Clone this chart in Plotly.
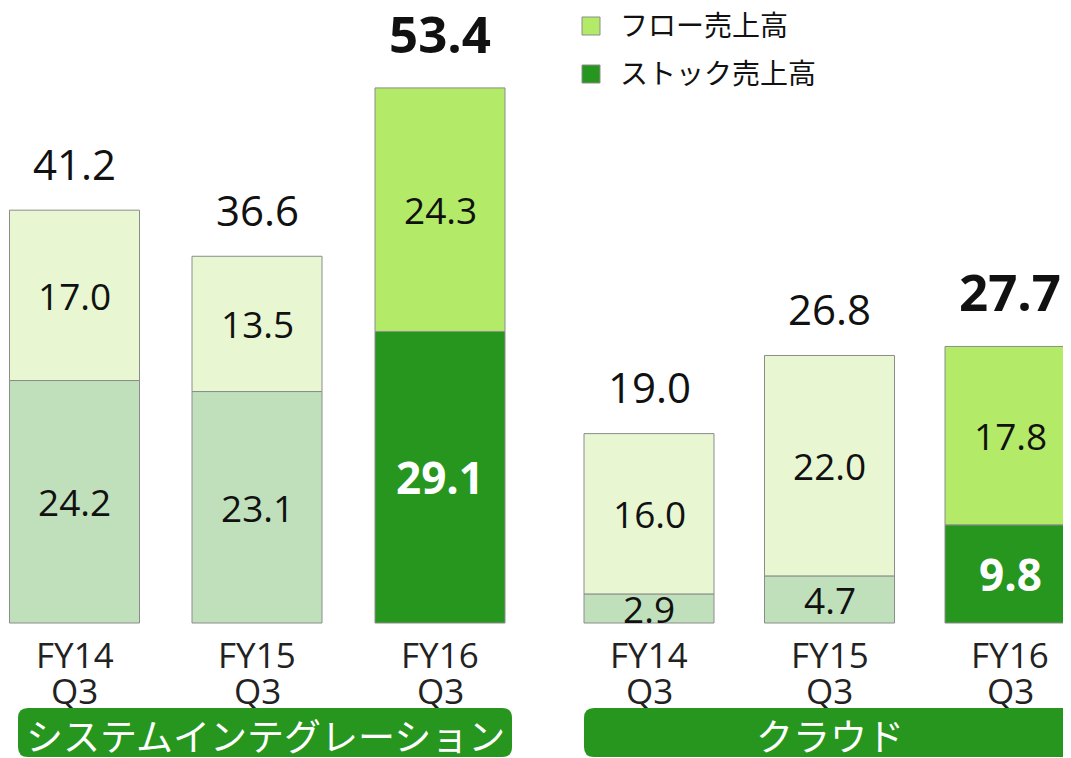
import plotly.graph_objects as go

# ---- data ----
period_fy = ["FY14", "FY15", "FY16"]
period_q = ["Q3", "Q3", "Q3"]
segments = ["システムインテグレーション", "クラウド"]
si_stock = [24.2, 23.1, 29.1]
si_flow = [17.0, 13.5, 24.3]
si_total = [41.2, 36.6, 53.4]
cl_stock = [2.9, 4.7, 9.8]
cl_flow = [16.0, 22.0, 17.8]
cl_total = [19.0, 26.8, 27.7]
legend_names = ["フロー売上高", "ストック売上高"]

# ---- layout helpers (page-pixel based; page body has 8px margin) ----
PAGE_W, PAGE_H = 1071, 758
OFF = 8
W, H = PAGE_W - OFF, PAGE_H - OFF
BASE_PX = 623
PX_PER_UNIT = 10.02


def py(pix):
    """page pixel row -> data y"""
    return (BASE_PX - pix) / PX_PER_UNIT


centers = [[74.5, 257, 440], [649, 829.5, 1010]]
bar_w = 130

flow_pale, flow_dark = "#E8F7D2", "#B3EB68"
stock_pale, stock_dark = "#C0E0BC", "#26961E"
border = "#8C8C8C"
group_green = "#26961E"

FONT = "Open Sans, Noto Sans CJK JP, sans-serif"
JFONT = "Noto Sans CJK JP, sans-serif"

fig = go.Figure()
annotations = []
shapes = []

groups = [(si_stock, si_flow, si_total), (cl_stock, cl_flow, cl_total)]
for gi, (stock, flow, total) in enumerate(groups):
    xs = centers[gi]
    stock_cols = [stock_pale, stock_pale, stock_dark]
    flow_cols = [flow_pale, flow_pale, flow_dark]
    fig.add_trace(go.Bar(
        x=xs, y=stock, width=bar_w, name=legend_names[1],
        marker=dict(color=stock_cols, line=dict(color=border, width=1)),
        showlegend=False, hoverinfo="skip"))
    fig.add_trace(go.Bar(
        x=xs, y=flow, base=stock, width=bar_w, name=legend_names[0],
        marker=dict(color=flow_cols, line=dict(color=border, width=1)),
        showlegend=False, hoverinfo="skip"))
    for i in range(3):
        last = i == 2
        annotations.append(dict(
            x=xs[i], y=stock[i] / 2, xref="x", yref="y", showarrow=False,
            text=f"<b>{stock[i]:.1f}</b>" if last else f"{stock[i]:.1f}",
            font=dict(family=FONT, size=44 if last else 37,
                      color="white" if last else "#111111")))
        annotations.append(dict(
            x=xs[i], y=stock[i] + flow[i] / 2, xref="x", yref="y", showarrow=False,
            text=f"{flow[i]:.1f}",
            font=dict(family=FONT, size=37, color="#111111")))
        annotations.append(dict(
            x=xs[i], y=stock[i] + flow[i], xref="x", yref="y", showarrow=False,
            yshift=55 if last else 47, height=50 if last else None,
            text=f"<b>{total[i]:.1f}</b>" if last else f"{total[i]:.1f}",
            font=dict(family=FONT, size=51 if last else 42, color="#111111")))
        annotations.append(dict(
            x=xs[i], y=py(654), xref="x", yref="y", showarrow=False,
            text=period_fy[i], height=35,
            font=dict(family=FONT, size=35, color="#222222")))
        annotations.append(dict(
            x=xs[i], y=py(690), xref="x", yref="y", showarrow=False,
            text=period_q[i], height=36,
            font=dict(family=FONT, size=35, color="#222222")))

# group label boxes (rounded)
boxes = [(18, 512, 265, segments[0]), (584, 1095, 830, segments[1])]
for x0, x1, cx, label in boxes:
    top, bot = 708, 757
    r = 10
    ry = r / PX_PER_UNIT
    yt, yb = py(top), py(bot)
    path = (f"M{x0 + r},{yt} L{x1 - r},{yt} Q{x1},{yt} {x1},{yt - ry} "
            f"L{x1},{yb + ry} Q{x1},{yb} {x1 - r},{yb} L{x0 + r},{yb} "
            f"Q{x0},{yb} {x0},{yb + ry} L{x0},{yt - ry} Q{x0},{yt} {x0 + r},{yt} Z")
    shapes.append(dict(type="path", path=path, xref="x", yref="y",
                       fillcolor=group_green, line=dict(width=0), layer="above"))
    annotations.append(dict(
        x=cx, y=py(735), xref="x", yref="y", showarrow=False, text=label,
        height=42,
        font=dict(family=JFONT, size=37, color="white")))

# manual legend
leg_items = [(legend_names[0], flow_dark, 26), (legend_names[1], stock_dark, 74)]
for name, col, cy in leg_items:
    shapes.append(dict(type="rect", xref="x", yref="y",
                       x0=582, x1=600, y0=py(cy - 9), y1=py(cy + 9),
                       fillcolor=col, line=dict(color=border, width=1)))
    annotations.append(dict(
        x=618, y=py(cy - 2), xref="x", yref="y", showarrow=False, xanchor="left",
        text=name, font=dict(family=JFONT, size=28, color="#111111")))

fig.update_layout(
    width=W, height=H,
    margin=dict(l=0, r=0, t=0, b=0),
    paper_bgcolor="white", plot_bgcolor="white",
    barmode="overlay",
    xaxis=dict(range=[OFF, PAGE_W], visible=False, fixedrange=True),
    yaxis=dict(range=[py(PAGE_H), py(OFF)], visible=False, fixedrange=True),
    annotations=annotations, shapes=shapes,
    showlegend=False,
)

fig.write_html("out.html")
